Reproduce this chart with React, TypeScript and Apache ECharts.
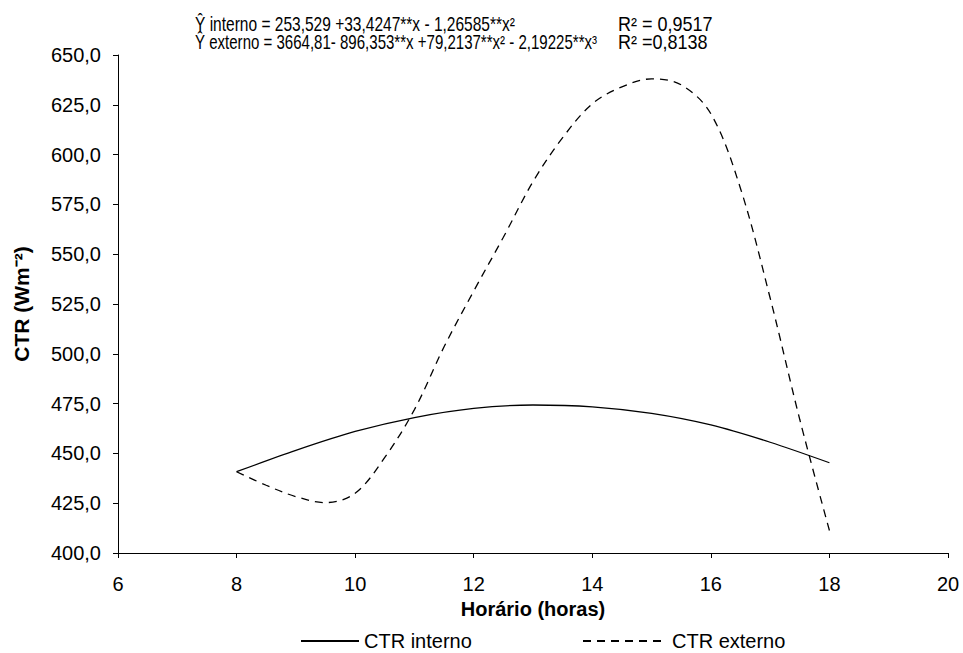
import React, { useEffect, useRef } from "react";
import * as echarts from "echarts";

const hoursInterno = [8, 9, 10, 11, 12, 13, 14, 15, 16, 17, 18];
const ctrInterno = [440.8, 451.5, 461.0, 468.0, 472.6, 474.3, 473.4, 470.1, 464.3, 455.6, 445.3];

const hoursExterno = [8, 8.5, 9, 9.5, 10, 10.5, 11, 11.5, 12, 12.5, 13, 13.5, 14, 14.5, 15, 15.5, 16, 16.5, 17, 17.5, 18];
const ctrExterno = [440.8, 434.0, 428.3, 425.3, 430.0, 448.0, 472.0, 503.5, 531.5, 558.5, 586.4, 608.5, 625.5, 634.0, 638.0, 635.0, 620.5, 583.0, 528.0, 467.0, 411.3];

const seriesNames = ["CTR interno", "CTR externo"];
const eqInterno = "Ŷ interno = 253,529 +33,4247**x - 1,26585**x²";
const eqExterno = "Ŷ externo = 3664,81- 896,353**x +79,2137**x² - 2,19225**x³";
const r2Interno = "R² = 0,9517";
const r2Externo = "R² =0,8138";

const FONT = "'Liberation Sans', Arial, sans-serif";

export default function App() {
  const ref = useRef<HTMLDivElement>(null);
  useEffect(() => {
    if (!ref.current) return;
    const chart = echarts.init(ref.current, undefined, { renderer: "svg" });
    const eqStyle = { fill: "#000", fontSize: 20, fontFamily: FONT, verticalAlign: "middle" };
    const legendText = { fontSize: 20, lineHeight: 20, color: "#000", fontFamily: FONT };
    chart.setOption({
      animation: false,
      backgroundColor: "#fff",
      textStyle: { fontFamily: FONT, color: "#000" },
      grid: { left: 118, right: 15, top: 55, bottom: 100, containLabel: false, outerBoundsMode: "none" },
      legend: [
        {
          data: [seriesNames[0]],
          left: 300,
          top: 631,
          padding: 0,
          itemWidth: 58,
          itemHeight: 14,
          itemGap: 0,
          itemStyle: { opacity: 0 },
          textStyle: legendText,
        },
        {
          data: [seriesNames[1]],
          left: 582,
          top: 631,
          padding: 0,
          itemWidth: 84,
          itemHeight: 14,
          itemGap: 0,
          itemStyle: { opacity: 0 },
          textStyle: legendText,
        },
      ],
      xAxis: {
        type: "value",
        min: 6,
        max: 20,
        interval: 2,
        name: "Horário (horas)",
        nameLocation: "middle",
        nameGap: 43,
        nameTextStyle: { fontSize: 20, fontWeight: "bold", color: "#000", fontFamily: FONT },
        axisLine: { show: true, lineStyle: { color: "#000", width: 1 } },
        axisTick: { show: true, inside: false, length: 5, lineStyle: { color: "#000" } },
        axisLabel: { fontSize: 20, color: "#000", margin: 21, fontFamily: FONT },
        splitLine: { show: false },
      },
      yAxis: {
        type: "value",
        min: 400,
        max: 650,
        interval: 25,
        name: "CTR (Wm⁻²)",
        nameLocation: "middle",
        nameGap: 86,
        nameRotate: 90,
        nameTextStyle: { fontSize: 21, fontWeight: "bold", color: "#000", fontFamily: FONT },
        axisLine: { show: true, lineStyle: { color: "#000", width: 1 } },
        axisTick: { show: true, inside: false, length: 5, lineStyle: { color: "#000" } },
        axisLabel: {
          fontSize: 20,
          color: "#000",
          margin: 17,
          fontFamily: FONT,
          formatter: (v: number) => v.toFixed(1).replace(".", ","),
        },
        splitLine: { show: false },
      },
      series: [
        {
          name: seriesNames[0],
          type: "line",
          data: hoursInterno.map((h, i) => [h, ctrInterno[i]]),
          showSymbol: false,
          symbol: "none",
          smooth: 0.3,
          lineStyle: { color: "#000", width: 1.3, type: "solid" },
          itemStyle: { color: "#000" },
        },
        {
          name: seriesNames[1],
          type: "line",
          data: hoursExterno.map((h, i) => [h, ctrExterno[i]]),
          showSymbol: false,
          symbol: "none",
          smooth: 0.35,
          lineStyle: { color: "#000", width: 1.3, type: [8, 6] },
          itemStyle: { color: "#000" },
        },
      ],
      graphic: [
        { type: "text", x: 195, y: 24, scaleX: 0.776, style: { ...eqStyle, text: eqInterno } },
        { type: "text", x: 195, y: 42, scaleX: 0.752, style: { ...eqStyle, text: eqExterno } },
        { type: "text", x: 618, y: 24, scaleX: 0.9, style: { ...eqStyle, text: r2Interno } },
        { type: "text", x: 618, y: 42, scaleX: 0.9, style: { ...eqStyle, text: r2Externo } },
      ],
    });
    return () => chart.dispose();
  }, []);
  return <div ref={ref} style={{ width: 963, height: 653, position: "absolute", left: 0, top: 0 }} />;
}
